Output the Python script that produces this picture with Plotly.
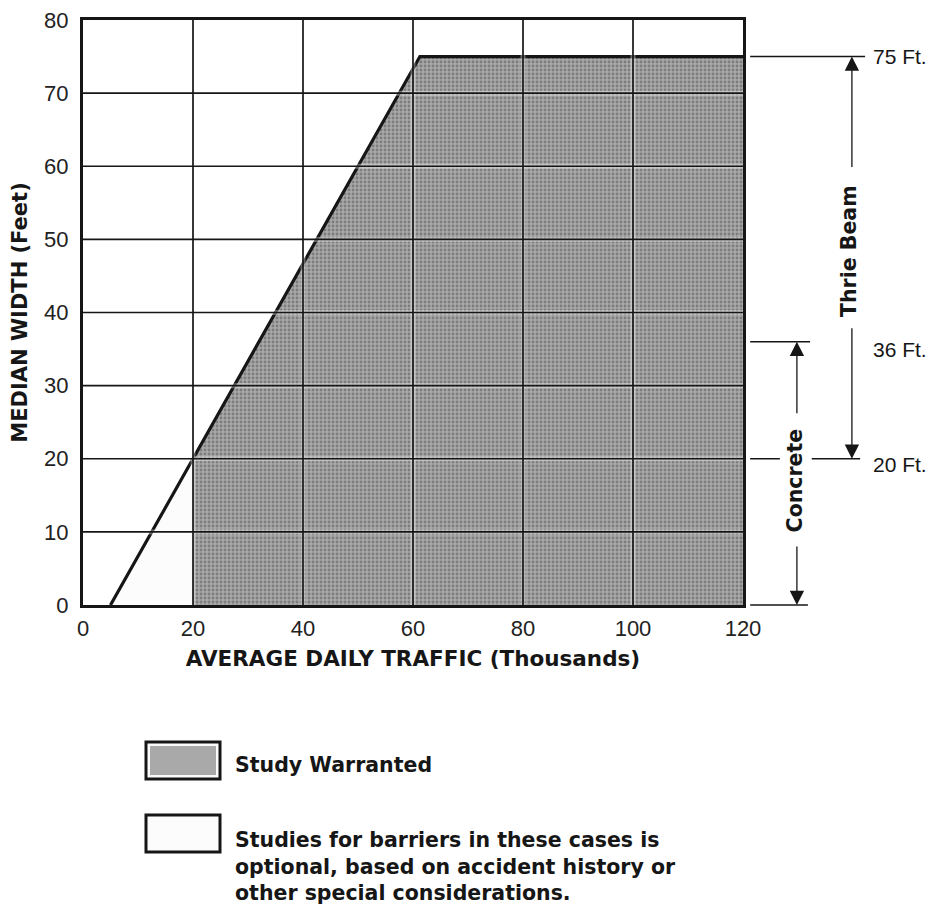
import plotly.graph_objects as go

# ---- data ----
x_ticks = [0, 20, 40, 60, 80, 100, 120]
y_ticks = [0, 10, 20, 30, 40, 50, 60, 70, 80]
# boundary of "study warranted" region (ADT thousands, median width ft)
boundary_x = [5, 20, 61.25, 120]
boundary_y = [0, 20, 75, 75]
warranted_x = [20, 20, 61.25, 120, 120, 20]
warranted_y = [0, 20, 75, 75, 0, 0]
optional_x = [5, 20, 20, 5]
optional_y = [0, 20, 0, 0]
thrie_beam = [20, 75]
concrete = [0, 36]
ft_levels = [75, 36, 20]
ft_labels = ["75 Ft.", "36 Ft.", "20 Ft."]

XMAX, YMAX = 120, 80
FONT = "Liberation Sans, Arial, sans-serif"
BFONT = "DejaVu Sans, Liberation Sans, sans-serif"
INK = "#161616"
GRAY = "#a3a3a3"

fig = go.Figure()
fig.add_trace(go.Scatter(x=optional_x, y=optional_y, mode="lines", fill="toself",
                         fillcolor="#fcfcfc", line=dict(width=0), hoverinfo="skip", showlegend=False))
fig.add_trace(go.Scatter(x=warranted_x, y=warranted_y, mode="lines", fill="toself",
                         fillcolor=GRAY,
                         fillpattern=dict(shape=".", bgcolor="#a9a9a9", fgcolor="#7c7c7c",
                                          size=4, solidity=0.4, fillmode="replace"),
                         line=dict(width=0), hoverinfo="skip", showlegend=False))

shapes = []
# gridlines with a faint light halo, drawn above the fill
for xv in x_ticks[1:-1]:
    shapes.append(dict(type="line", xref="x", yref="y", x0=xv, x1=xv, y0=0, y1=YMAX,
                       line=dict(color="rgba(255,255,255,0.35)", width=5), layer="above"))
for yv in y_ticks[1:-1]:
    shapes.append(dict(type="line", xref="x", yref="y", x0=0, x1=XMAX, y0=yv, y1=yv,
                       line=dict(color="rgba(255,255,255,0.35)", width=5), layer="above"))
for xv in x_ticks[1:-1]:
    shapes.append(dict(type="line", xref="x", yref="y", x0=xv, x1=xv, y0=0, y1=YMAX,
                       line=dict(color=INK, width=1.7), layer="above"))
for yv in y_ticks[1:-1]:
    shapes.append(dict(type="line", xref="x", yref="y", x0=0, x1=XMAX, y0=yv, y1=yv,
                       line=dict(color=INK, width=1.7), layer="above"))

fig.add_trace(go.Scatter(x=boundary_x, y=boundary_y, mode="lines",
                         line=dict(color=INK, width=3.2), hoverinfo="skip", showlegend=False))

# ---- right-side dimension marks (paper coords derived from data units) ----
def px(xv):
    return xv / XMAX
def py(yv):
    return yv / YMAX

x_start = 121.3
concrete_x = 129.8
thrie_x = 139.8
line_ends = {75: [(x_start, 142.2)], 36: [(x_start, 132.2)],
             20: [(x_start, 126.7), (132.5, 141.3)], 0: [(x_start, 131.8)]}
for lvl, segs in line_ends.items():
    for a, b in segs:
        shapes.append(dict(type="line", xref="paper", yref="paper", x0=px(a), x1=px(b),
                           y0=py(lvl), y1=py(lvl), line=dict(color=INK, width=1.5)))

annotations = []
def arrow(xv, tip_y, ay):
    annotations.append(dict(xref="paper", yref="paper", x=px(xv), y=py(tip_y), ax=0, ay=ay,
                            text="", showarrow=True, arrowhead=2, arrowsize=2.2,
                            arrowwidth=1.3, arrowcolor=INK))

arrow(thrie_x, thrie_beam[1], 112)
arrow(thrie_x, thrie_beam[0], -132)
arrow(concrete_x, concrete[1], 73)
arrow(concrete_x, concrete[0], -60)

annotations.append(dict(xref="paper", yref="paper", x=px(thrie_x - 0.5), y=py(48.3),
                        xanchor="center", yanchor="middle",
                        text="<b>Thrie Beam</b>", textangle=-90, showarrow=False,
                        font=dict(family=BFONT, size=20.5, color=INK)))
annotations.append(dict(xref="paper", yref="paper", x=px(concrete_x - 0.4), y=py(17.0),
                        xanchor="center", yanchor="middle",
                        text="<b>Concrete</b>", textangle=-90, showarrow=False,
                        font=dict(family=BFONT, size=20.5, color=INK)))
ft_offsets = {75: 0.0, 36: -1.0, 20: -0.8}
for lvl, lab in zip(ft_levels, ft_labels):
    annotations.append(dict(xref="paper", yref="paper", x=px(143.2), y=py(lvl + ft_offsets[lvl]),
                            xanchor="left", yanchor="middle", text=lab, showarrow=False,
                            font=dict(family=FONT, size=21, color=INK)))

# ---- legend (drawn) ----
PLOT_BOTTOM_PX = 605.0
PW, PH = 660.0, 585.0
def lx(p):
    return (p - 83) / PW
def ly(p):
    return (PLOT_BOTTOM_PX - p) / PH

shapes.append(dict(type="rect", xref="paper", yref="paper", x0=lx(146), x1=lx(220),
                   y0=ly(779), y1=ly(742), fillcolor="#fafafa", line=dict(color=INK, width=3)))
shapes.append(dict(type="rect", xref="paper", yref="paper", x0=lx(150), x1=lx(216),
                   y0=ly(775), y1=ly(746), fillcolor="#a9a9a9", line=dict(width=0)))
shapes.append(dict(type="rect", xref="paper", yref="paper", x0=lx(146), x1=lx(220),
                   y0=ly(852), y1=ly(815), fillcolor="#fcfcfc", line=dict(color=INK, width=3)))
annotations.append(dict(xref="paper", yref="paper", x=lx(233), y=ly(765),
                        xanchor="left", yanchor="middle",
                        text="<b>Study Warranted</b>", showarrow=False,
                        font=dict(family=BFONT, size=20.5, color=INK)))
annotations.append(dict(xref="paper", yref="paper", x=lx(233), y=ly(866),
                        xanchor="left", yanchor="middle", align="left",
                        text="<b>Studies for barriers in these cases is<br>optional, based on accident history or<br>other special considerations.</b>",
                        showarrow=False, font=dict(family=BFONT, size=20.5, color=INK)))

fig.update_layout(
    width=929, height=899,
    margin=dict(l=75, r=194, t=12, b=302, autoexpand=False),
    plot_bgcolor="white", paper_bgcolor="white",
    font=dict(family=FONT, color=INK),
    shapes=shapes, annotations=annotations,
    xaxis=dict(range=[0, XMAX], tickvals=x_ticks, showgrid=False, zeroline=False,
               showline=True, linecolor=INK, linewidth=3.2, mirror=True, ticks="",
               tickfont=dict(size=22, family=FONT, color="#222"), automargin=False,
               ticklabelstandoff=1, ticklabeloverflow="allow",
               title=dict(text="<b>AVERAGE DAILY TRAFFIC (Thousands)</b>",
                          font=dict(size=21.5, family=BFONT, color=INK), standoff=12)),
    yaxis=dict(range=[0, YMAX], tickvals=y_ticks, showgrid=False, zeroline=False,
               showline=True, linecolor=INK, linewidth=3.2, mirror=True, ticks="",
               tickfont=dict(size=22, family=FONT, color="#222"), automargin=False,
               ticklabelstandoff=7, ticklabeloverflow="allow",
               title=dict(text="<b>MEDIAN WIDTH (Feet)</b>",
                          font=dict(size=21, family=BFONT, color=INK), standoff=13)),
)

fig.write_html("out.html")
